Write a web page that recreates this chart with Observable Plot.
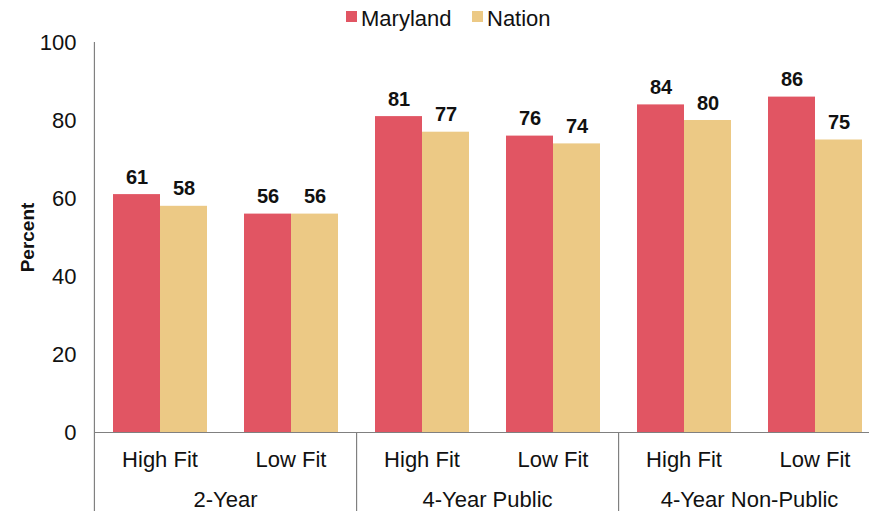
<!DOCTYPE html>
<html><head><meta charset="utf-8">
<script src="https://cdn.jsdelivr.net/npm/d3@7"></script>
<script src="https://cdn.jsdelivr.net/npm/@observablehq/plot@0.6"></script>
<style>
body{margin:0;overflow:hidden;background:#fff;font-family:"Liberation Sans",Arial,Helvetica,sans-serif;}
#legend{height:32px;position:relative;font-size:22px;color:#111;}
#legend .sw{position:absolute;top:11px;width:11px;height:11px;}
#legend .lb{position:absolute;top:3px;line-height:32px;white-space:nowrap;}
#chart svg{max-width:none !important;}
</style></head><body>
<div id="legend"></div><div id="chart"></div>
<script>
const groups = ["2-Year", "4-Year Public", "4-Year Non-Public"];
const fits = ["High Fit", "Low Fit"];
const series = ["Maryland", "Nation"];
const maryland = [61, 56, 81, 76, 84, 86];
const nation = [58, 56, 77, 74, 80, 75];
const colors = ["#E15563", "#ECC985"];
const yTicks = [0, 20, 40, 60, 80, 100];

const keys = [];
const rows = [];
groups.forEach((g, gi) => fits.forEach((f, fi) => {
  const key = g + "|" + f;
  keys.push(key);
  const i = gi * 2 + fi;
  rows.push({key, group: g, fit: f, series: series[0], value: maryland[i]});
  rows.push({key, group: g, fit: f, series: series[1], value: nation[i]});
}));

// legend (HTML, above the SVG)
const legend = document.getElementById("legend");
const legendPos = [[346, 361], [472, 487]];
series.forEach((s, i) => {
  const sw = document.createElement("div");
  sw.className = "sw"; sw.style.left = legendPos[i][0] + "px"; sw.style.background = colors[i];
  const lb = document.createElement("div");
  lb.className = "lb"; lb.style.left = legendPos[i][1] + "px"; lb.textContent = s;
  legend.append(sw, lb);
});

const W = 880, H = 479, mL = 93, mR = 0, mT = 10, mB = 79;
const facetW = (W - mL - mR) / keys.length;
const frameH = H - mT - mB;
const axisColor = "#808080";

const chart = Plot.plot({
  width: W, height: H,
  marginLeft: mL, marginRight: mR, marginTop: mT, marginBottom: mB,
  style: {fontFamily: '"Liberation Sans", Arial, Helvetica, sans-serif', fontSize: "22px", color: "#111", overflow: "visible", maxWidth: "none"},
  fx: {domain: keys, padding: 0},
  x: {domain: series, paddingInner: 0, paddingOuter: 0.365},
  y: {domain: [0, 100]},
  color: {domain: series, range: colors},
  marks: [
    Plot.barY(rows, {fx: "key", x: "series", y: "value", fill: "series"}),
    Plot.text(rows, {fx: "key", x: "series", y: "value", text: d => String(d.value), lineAnchor: "bottom", dy: -11, fontWeight: "bold", fontSize: 20, fill: "#111"}),
    Plot.ruleY([0], {stroke: axisColor, strokeWidth: 1.2}),
    Plot.ruleX([keys[0]], {fx: d => d, x: null, dx: -facetW / 2, insetBottom: -mB, stroke: axisColor, strokeWidth: 1.2}),
    Plot.ruleX([keys[1], keys[3]], {fx: d => d, x: null, dx: facetW / 2, insetTop: frameH, insetBottom: -mB, stroke: axisColor, strokeWidth: 1.2}),
    Plot.axisY(yTicks, {tickSize: 0, tickPadding: 18, fontSize: 22, label: null}),
    Plot.axisFx({anchor: "bottom", tickSize: 0, tickPadding: 19, fontSize: 22, label: null, tickFormat: d => d.split("|")[1]}),
    Plot.axisX({ticks: [], label: null}),
    Plot.text(groups, {fx: d => d + "|" + fits[0], text: d => d, frameAnchor: "bottom-right", textAnchor: "middle", lineAnchor: "top", dy: 59, fontSize: 22}),
    Plot.text(["Percent"], {fx: () => keys[0], text: d => d, frameAnchor: "left", textAnchor: "middle", lineAnchor: "middle", dx: -67, rotate: -90, fontWeight: "bold", fontSize: 19})
  ]
});
document.getElementById("chart").append(chart);
</script>
</body></html>
